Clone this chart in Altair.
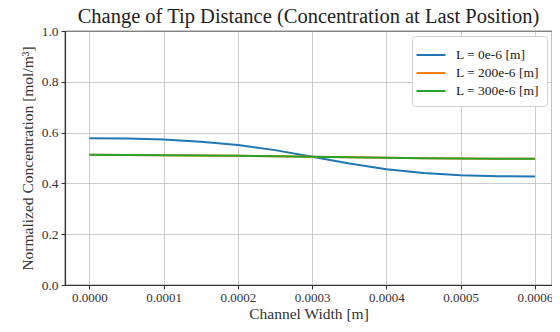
import altair as alt
import pandas as pd

x_vals = [0.0, 0.00005, 0.0001, 0.00015, 0.0002, 0.00025, 0.0003, 0.00035, 0.0004, 0.00045, 0.0005, 0.00055, 0.0006]
y_L0 = [0.578, 0.577, 0.573, 0.564, 0.551, 0.531, 0.505, 0.478, 0.456, 0.441, 0.432, 0.428, 0.427]
y_L200 = [0.513, 0.512, 0.511, 0.510, 0.509, 0.507, 0.505, 0.503, 0.501, 0.499, 0.498, 0.497, 0.497]
y_L300 = [0.513, 0.512, 0.511, 0.510, 0.509, 0.507, 0.505, 0.503, 0.501, 0.499, 0.498, 0.497, 0.497]
series = ["L = 0e-6 [m]", "L = 200e-6 [m]", "L = 300e-6 [m]"]
colors = ["#1f77b4", "#ff7f0e", "#2ca02c"]
x_ticks = [0.0, 0.0001, 0.0002, 0.0003, 0.0004, 0.0005, 0.0006]
y_ticks = [0.0, 0.2, 0.4, 0.6, 0.8, 1.0]

rows = []
for i, (name, ys) in enumerate(zip(series, [y_L0, y_L200, y_L300])):
    for x, y in zip(x_vals, ys):
        rows.append({"x": x, "y": y, "series": name, "order": i})
df = pd.DataFrame(rows)

FONT = "Liberation Serif"

chart = alt.Chart(df).mark_line(strokeWidth=2).encode(
    x=alt.X("x:Q",
            scale=alt.Scale(domain=[-0.000033, 0.000623], nice=False, zero=False),
            axis=alt.Axis(values=x_ticks, format=".4f", title="Channel Width [m]",
                          grid=True, tickSize=4, labelPadding=2, titlePadding=2,
                          labelFontSize=13)),
    y=alt.Y("y:Q",
            scale=alt.Scale(domain=[0, 1], nice=False),
            axis=alt.Axis(values=y_ticks, format=".1f", title="Normalized Concentration [mol/m³]",
                          grid=True, tickSize=4, labelPadding=3, titlePadding=6)),
    color=alt.Color("series:N", scale=alt.Scale(domain=series, range=colors),
                    legend=alt.Legend(title=None, orient="none", legendX=347, legendY=5,
                                      symbolType="M-1.45,0H1.45", symbolSize=400, symbolStrokeWidth=2,
                                      symbolFillColor="transparent",
                                      labelFont=FONT, labelFontSize=13.5, labelColor="#222",
                                      strokeColor="#d0d0d0", fillColor="white", cornerRadius=3,
                                      padding=8, rowPadding=0, labelOffset=14)),
    order=alt.Order("order:Q"),
    detail="series:N",
).properties(
    width=487, height=254,
    title=alt.Title("Change of Tip Distance (Concentration at Last Position)",
                    font=FONT, fontSize=20.5, fontWeight="normal", color="#222", offset=-3),
    autosize=alt.AutoSizeParams(type="none"),
    padding={"left": 57, "top": 23, "right": 0, "bottom": 38},
    background="white",
).configure_view(
    stroke="#333", strokeWidth=1.2
).configure_axis(
    labelFont=FONT, labelFontSize=13.5, labelColor="#333",
    titleFont=FONT, titleFontSize=15.5, titleFontWeight="normal", titleColor="#333",
    gridColor="#b0b0b0", gridWidth=0.8, gridOpacity=0.8,
    domainColor="#333", domainWidth=1.2, tickColor="#333",
)

chart.save("out.html", embed_options={"renderer": "svg", "actions": False})
